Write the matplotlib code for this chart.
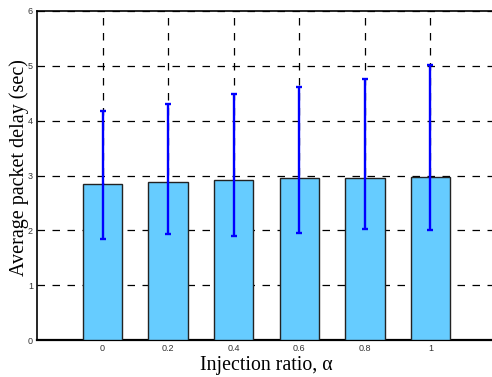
import matplotlib
matplotlib.use("Agg")
import matplotlib.pyplot as plt
import numpy as np

# injection ratio values
alpha = [0, 0.2, 0.4, 0.6, 0.8, 1]
# mean delay and error bar ends
delay = [2.85, 2.89, 2.92, 2.96, 2.96, 2.98]
err_low = [1.85, 1.94, 1.90, 1.96, 2.02, 2.01]
err_high = [4.18, 4.30, 4.49, 4.61, 4.76, 5.02]
x_ticks = ["0", "0.2", "0.4", "0.6", "0.8", "1"]
y_ticks = [0, 1, 2, 3, 4, 5, 6]

delay_arr = np.array(delay)
yerr = [delay_arr - np.array(err_low), np.array(err_high) - delay_arr]

fig = plt.figure(figsize=(4.92, 3.77), dpi=100)
ax = fig.add_axes([37 / 492, 37 / 377, 459 / 492, 329 / 377])

ax.bar(alpha, delay, width=0.12, color="#66ccff", edgecolor="#222222",
       linewidth=1.0, zorder=3)
ax.errorbar(alpha, delay, yerr=yerr, fmt="none", ecolor="#0000ff",
            elinewidth=1.7, capsize=2.3, capthick=1.7, zorder=4)

ax.set_xlim(-0.2, 1.2)
ax.set_ylim(0, 6)
ax.set_xticks(alpha)
ax.set_xticklabels(x_ticks)
ax.set_yticks(y_ticks)
ax.tick_params(length=0, labelsize=6.5, colors="#333333", pad=3)
for lab in ax.get_xticklabels() + ax.get_yticklabels():
    lab.set_family("Liberation Sans")

ax.grid(True, linestyle=(0, (6, 6)), color="black", linewidth=0.9, zorder=0)
ax.set_axisbelow(True)

for side in ["left", "bottom", "top"]:
    ax.spines[side].set_color("black")
ax.spines["bottom"].set_linewidth(1.6)
ax.spines["left"].set_linewidth(1.2)
ax.spines["top"].set_linewidth(1.2)
ax.spines["right"].set_visible(False)

ax.set_xlabel("Injection ratio, α", family="Liberation Serif", fontsize=14.3,
              labelpad=2)
ax.set_ylabel("Average packet delay (sec)", family="Liberation Serif",
              fontsize=14.5)
ax.yaxis.set_label_coords(-0.018, 0.523)

fig.savefig("out.png", dpi=100)
